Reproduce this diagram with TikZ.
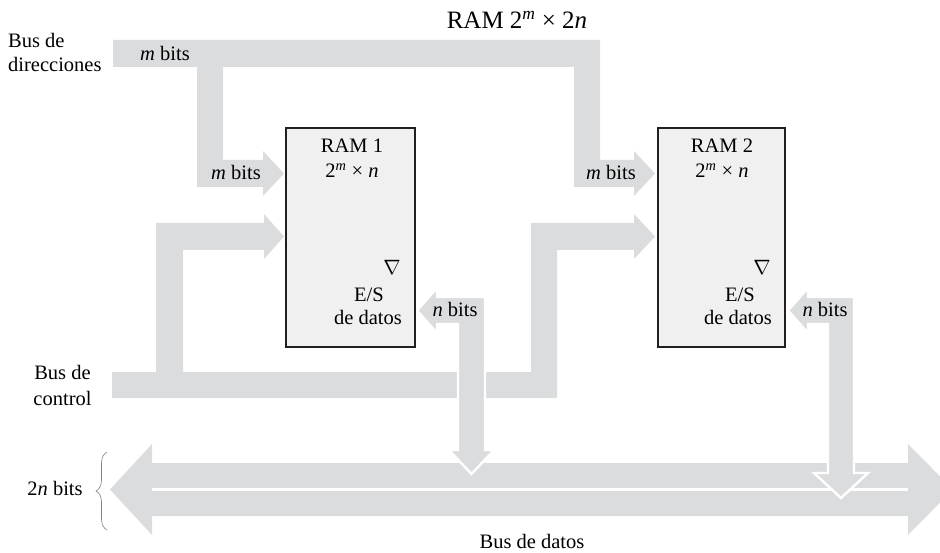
\documentclass[tikz,border=0pt]{standalone}
\usepackage{fontspec}
\setmainfont{Liberation Serif}
\usetikzlibrary{decorations.pathreplacing}
\definecolor{busgray}{RGB}{219,220,222}
\definecolor{boxfill}{RGB}{239,240,239}
\definecolor{boxline}{RGB}{35,31,32}
\begin{document}
\begin{tikzpicture}[x=1pt,y=-1pt,
  bus/.style={fill=busgray,draw=none},
  nbus/.style={fill=busgray,draw=white,line width=2.4pt,line join=miter},
  rambox/.style={draw=boxline,fill=boxfill,line width=2.2pt,minimum height=219pt,inner sep=0pt,outer sep=0pt},
  lbl/.style={font=\fontsize{20.5}{24}\selectfont,inner sep=0pt},
  ttl/.style={font=\fontsize{25}{29}\selectfont,inner sep=0pt}]
\useasboundingbox (0,0) rectangle (940,553);
\clip (0,0) rectangle (940,553);

% address bus
\path[bus] (113,40) -- (600,40) -- (600,160) -- (634,160) -- (634,151) -- (655,173.5)
  -- (634,196) -- (634,187) -- (574,187) -- (574,67) -- (223,67) -- (223,160)
  -- (263,160) -- (263,151) -- (284,173.5) -- (263,196) -- (263,187) -- (197,187)
  -- (197,67) -- (113,67) -- cycle;

% control bus
\path[bus] (112,372) -- (156,372) -- (156,223) -- (264,223) -- (264,214) -- (284,236.5)
  -- (264,259) -- (264,250) -- (183,250) -- (183,372) -- (531,372) -- (531,223)
  -- (634,223) -- (634,214) -- (655,236.5) -- (634,259) -- (634,250) -- (557,250)
  -- (557,398) -- (112,398) -- cycle;

% data bus
\path[bus] (110,489.5) -- (152,444) -- (152,463) -- (908,463) -- (908,444) -- (953,489.5)
  -- (908,535) -- (908,516) -- (152,516) -- (152,535) -- cycle;
\draw[white,line width=3pt] (152,489.5) -- (908,489.5);

% n bits arrows
\path[nbus] (417,310.5) -- (437,288) -- (437,297) -- (485,297) -- (485,450) -- (494,450)
  -- (471.5,474) -- (449,450) -- (458,450) -- (458,324) -- (437,324) -- (437,333) -- cycle;
\path[nbus] (788,310.5) -- (808,288) -- (808,297) -- (854,297) -- (854,473) -- (868,473)
  -- (841,498) -- (814,473) -- (828,473) -- (828,324) -- (808,324) -- (808,333) -- cycle;

% RAM boxes
\node[rambox,minimum width=129pt] (ram1) at (350.5,237.5) {};
\node[rambox,minimum width=127pt] (ram2) at (721.5,237.5) {};

% labels
\node[ttl,anchor=base] (title) at (517,29) {RAM 2\textsuperscript{\textit{m}} × 2\textit{n}};
\node[lbl,anchor=base west] (dir1) at (8,48) {Bus de};
\node[lbl,anchor=base west] (dir2) at (8,72) {direcciones};
\node[lbl,anchor=base] (mb0) at (165,61) {\textit{m} bits};
\node[lbl,anchor=base] (mb1) at (236,180) {\textit{m} bits};
\node[lbl,anchor=base] (mb2) at (611,180) {\textit{m} bits};

\node[lbl,anchor=base] (r1a) at (352,153) {RAM 1};
\node[lbl,anchor=base] (r1b) at (352,178) {2\textsuperscript{\textit{m}} × \textit{n}};
\node[lbl,anchor=base] (r1c) at (392,275) {$\nabla$};
\node[lbl,anchor=base] (r1d) at (369,302) {E/S};
\node[lbl,anchor=base] (r1e) at (368,325) {de datos};

\node[lbl,anchor=base] (r2a) at (722,153) {RAM 2};
\node[lbl,anchor=base] (r2b) at (722,178) {2\textsuperscript{\textit{m}} × \textit{n}};
\node[lbl,anchor=base] (r2c) at (762,275) {$\nabla$};
\node[lbl,anchor=base] (r2d) at (740,302) {E/S};
\node[lbl,anchor=base] (r2e) at (738,325) {de datos};

\node[lbl,anchor=base] (nb1) at (455,317) {\textit{n} bits};
\node[lbl,anchor=base] (nb2) at (825,317) {\textit{n} bits};

\node[lbl,anchor=base] (ctl1) at (62.5,380) {Bus de};
\node[lbl,anchor=base] (ctl2) at (62.5,405) {control};

\node[lbl,anchor=base] (tw) at (55,495) {2\textit{n} bits};
\draw[decorate,decoration={brace,amplitude=11pt},draw=gray,line width=0.6pt] (107,530) -- (107,452);

\node[lbl,anchor=base] (bd) at (532,548) {Bus de datos};
\end{tikzpicture}
\end{document}
